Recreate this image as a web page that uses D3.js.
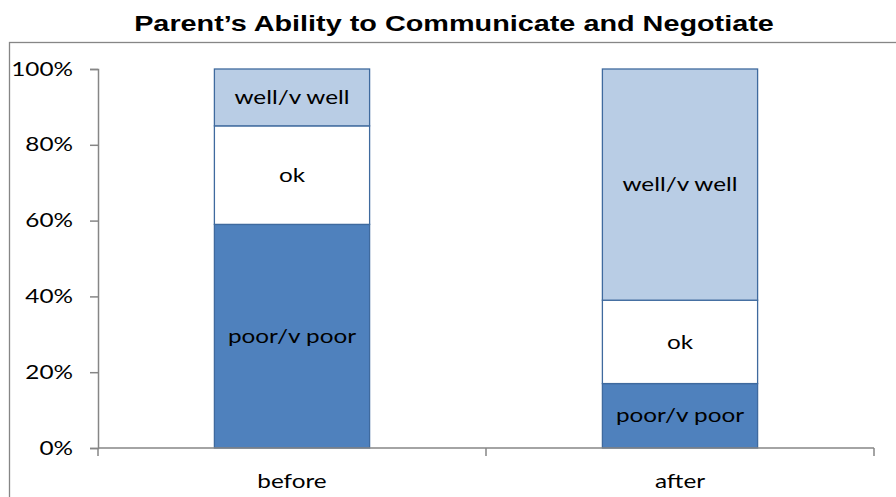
<!DOCTYPE html>
<html>
<head>
<meta charset="utf-8">
<script src="https://cdn.jsdelivr.net/npm/d3@7"></script>
<style>
  body { margin: 0; background: #fff; }
  svg { display: block; }
</style>
</head>
<body>
<div id="chart"></div>
<script>
// data
var categories = ["before", "after"];
var seriesNames = ["poor/v poor", "ok", "well/v well"];
var poorValues = [0.59, 0.17];
var okValues = [0.26, 0.22];
var wellValues = [0.15, 0.61];
var yTicks = [0, 0.2, 0.4, 0.6, 0.8, 1.0];

var svgWidth = 896;
var svgHeight = 497;

var margin = { top: 69, right: 22, bottom: 49, left: 98 };
var width = svgWidth - margin.left - margin.right;
var height = svgHeight - margin.top - margin.bottom;

// the source picture is stretched sideways, so text is widened to match
var stretch = 1.28;

var svg = d3.select("#chart")
    .append("svg")
    .attr("width", svgWidth)
    .attr("height", svgHeight);

// outer chart border (runs off the window on the right and bottom)
svg.append("rect")
    .attr("x", 9.5)
    .attr("y", 42.5)
    .attr("width", 900)
    .attr("height", 500)
    .attr("fill", "none")
    .attr("stroke", "#868686")
    .attr("stroke-width", 1.3);

svg.append("text")
    .attr("transform", "translate(454, 31) scale(1.31, 1)")
    .attr("text-anchor", "middle")
    .style("font-family", "'Liberation Sans', Arial, sans-serif")
    .style("font-weight", "bold")
    .style("font-size", "22px")
    .text("Parent\u2019s Ability to Communicate and Negotiate");

var rows = categories.map(function(c, i) {
    return { cat: c, "poor/v poor": poorValues[i], "ok": okValues[i], "well/v well": wellValues[i] };
});
var stacked = d3.stack().keys(seriesNames)(rows);

var x = d3.scaleBand()
    .domain(categories)
    .range([0, width])
    .paddingInner(0.6)
    .paddingOuter(0.3);

var xAxisScale = d3.scaleBand().domain(categories).range([0, width]);

var y = d3.scaleLinear().domain([0, 1]).range([height, 0]);

var colors = { "poor/v poor": "#4f81bd", "ok": "#ffffff", "well/v well": "#b9cde5" };
var textFont = "Lato, 'Open Sans', sans-serif";

var g = svg.append("g")
    .attr("transform", `translate(${margin.left}, ${margin.top})`);

var layers = g.selectAll(".layer")
    .data(stacked)
    .enter()
    .append("g")
    .attr("class", "layer");

layers.selectAll("rect")
    .data(function(s) { return s.map(function(d) { d.key = s.key; return d; }); })
    .enter()
    .append("rect")
    .attr("x", d => x(d.data.cat))
    .attr("y", d => y(d[1]))
    .attr("width", x.bandwidth())
    .attr("height", d => y(d[0]) - y(d[1]))
    .attr("fill", d => colors[d.key])
    .attr("stroke", "#3f6a9e")
    .attr("stroke-width", 1.3);

layers.selectAll("text")
    .data(function(s) { return s; })
    .enter()
    .append("text")
    .attr("transform", d => `translate(${x(d.data.cat) + x.bandwidth() / 2}, ${(y(d[0]) + y(d[1])) / 2}) scale(${stretch}, 1)`)
    .attr("dy", "0.35em")
    .attr("text-anchor", "middle")
    .style("font-family", textFont)
    .style("font-size", "19px")
    .style("fill", "#000")
    .text(d => d.key);

// y axis
var yAxis = g.append("g")
    .call(d3.axisLeft(y).tickValues(yTicks).tickSize(8).tickFormat(d3.format(".0%")));
yAxis.selectAll("line").attr("stroke", "#868686").attr("stroke-width", 1.5);
yAxis.select(".domain").attr("stroke", "#868686").attr("stroke-width", 1.5);
yAxis.selectAll("text")
    .attr("x", -25 / stretch)
    .attr("transform", `scale(${stretch}, 1)`)
    .style("font-family", textFont)
    .style("font-size", "19px")
    .style("fill", "#000");

// x axis
var xAxis = g.append("g")
    .attr("transform", `translate(0, ${height})`);
xAxis.append("line")
    .attr("x1", 0).attr("x2", width)
    .attr("stroke", "#868686").attr("stroke-width", 1.5);
xAxis.selectAll(".tk")
    .data([0, xAxisScale(categories[1]), width])
    .enter()
    .append("line")
    .attr("x1", d => d).attr("x2", d => d)
    .attr("y1", 0).attr("y2", 8)
    .attr("stroke", "#868686").attr("stroke-width", 1.5);
xAxis.selectAll(".lbl")
    .data(categories)
    .enter()
    .append("text")
    .attr("transform", d => `translate(${xAxisScale(d) + xAxisScale.bandwidth() / 2}, 40) scale(${stretch}, 1)`)
    .attr("text-anchor", "middle")
    .style("font-family", textFont)
    .style("font-size", "19px")
    .text(d => d);
</script>
</body>
</html>
